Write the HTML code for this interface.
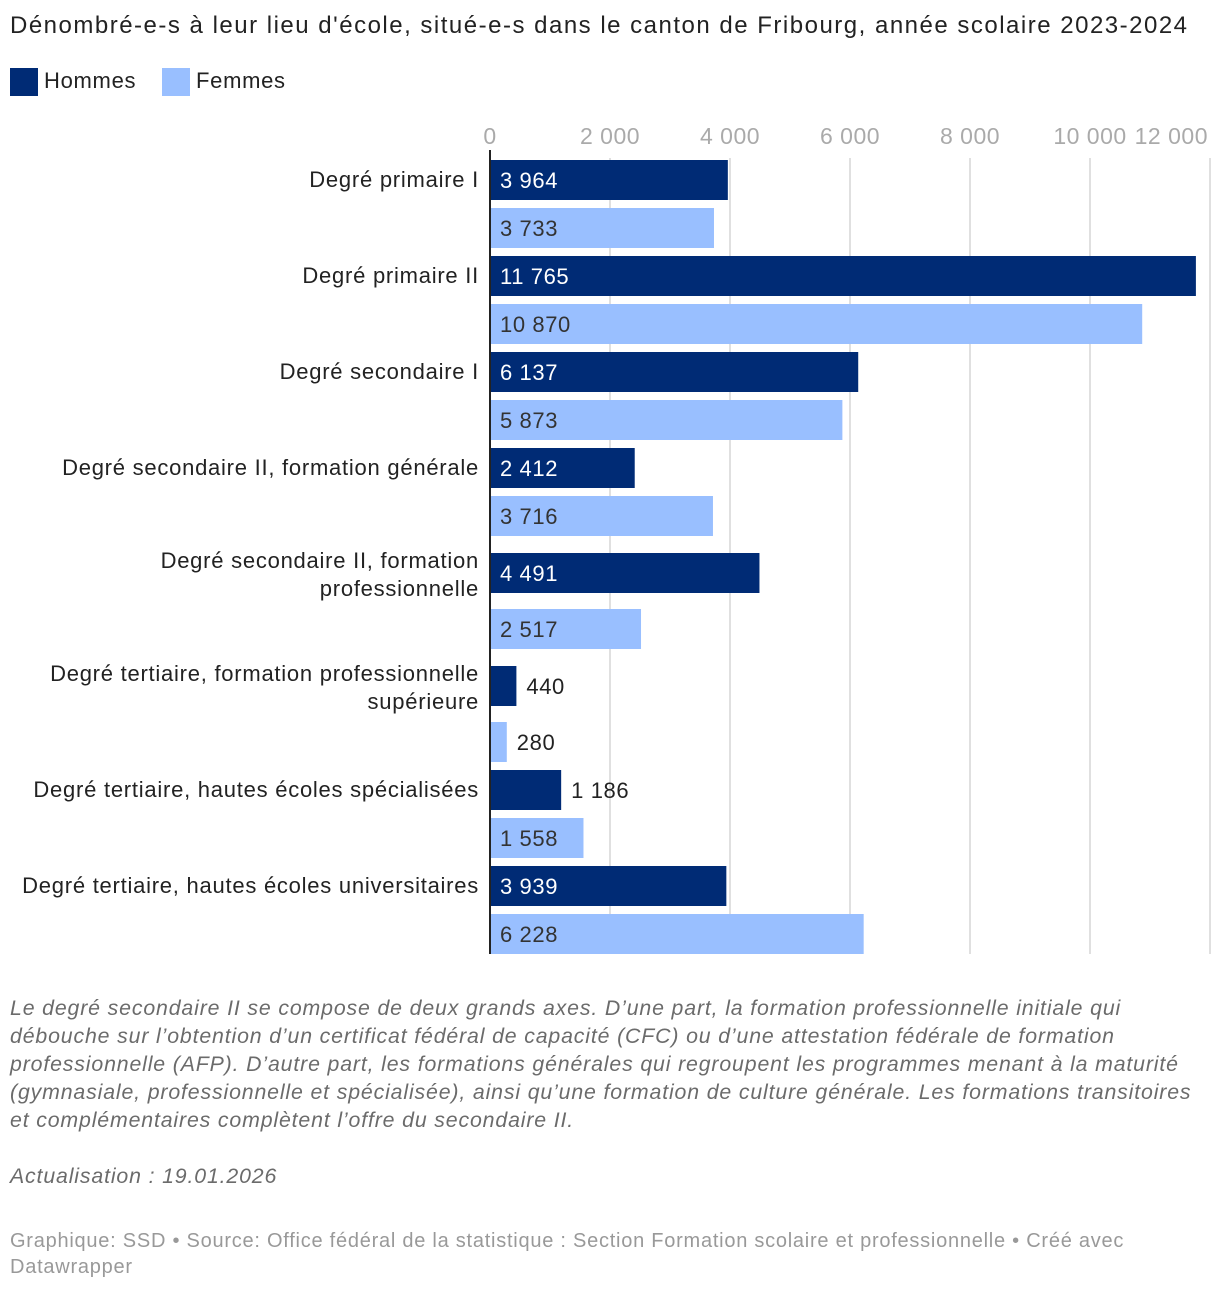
<!DOCTYPE html>
<html><head><meta charset="utf-8">
<style>
body{margin:0;background:#fff;width:1220px;height:1292px;overflow:hidden;font-family:"Liberation Sans",sans-serif;}
.t{position:absolute;white-space:nowrap;}
</style></head><body>
<div class="t" style="left:10px;top:12px;font-size:24px;color:#222;letter-spacing:1.5px;">Dénombré-e-s à leur lieu d'école, situé-e-s dans le canton de Fribourg, année scolaire 2023-2024</div>
<div class="t" style="left:10px;top:68px;font-size:22px;color:#222;letter-spacing:0.7px;"><span style="display:inline-block;width:28px;height:28px;background:#002b75;vertical-align:middle;margin-right:6px;"></span>Hommes</div>
<div class="t" style="left:162px;top:68px;font-size:22px;color:#222;letter-spacing:0.7px;"><span style="display:inline-block;width:28px;height:28px;background:#99bfff;vertical-align:middle;margin-right:6px;"></span>Femmes</div>
<svg id="chart" width="1220" height="980" style="position:absolute;left:0;top:0;font-family:'Liberation Sans',sans-serif;"></svg>
<div style="position:absolute;left:10px;top:994px;width:1200px;font-size:21.3px;line-height:28px;font-style:italic;color:#6b6b6b;letter-spacing:0.85px;">Le degré secondaire II se compose de deux grands axes. D’une part, la formation professionnelle initiale qui débouche sur l’obtention d’un certificat fédéral de capacité (CFC) ou d’une attestation fédérale de formation professionnelle (AFP). D’autre part, les formations générales qui regroupent les programmes menant à la maturité (gymnasiale, professionnelle et spécialisée), ainsi qu’une formation de culture générale. Les formations transitoires et complémentaires complètent l’offre du secondaire II.<br><br>Actualisation : 19.01.2026</div>
<div style="position:absolute;left:10px;top:1228px;width:1150px;font-size:20px;line-height:26px;color:#999;letter-spacing:0.75px;">Graphique: SSD • Source: Office fédéral de la statistique : Section Formation scolaire et professionnelle • Créé avec Datawrapper</div>
<script>
const categories=[["Degré primaire I"],["Degré primaire II"],["Degré secondaire I"],["Degré secondaire II, formation générale"],["Degré secondaire II, formation","professionnelle"],["Degré tertiaire, formation professionnelle","supérieure"],["Degré tertiaire, hautes écoles spécialisées"],["Degré tertiaire, hautes écoles universitaires"]];
const hommes=[3964,11765,6137,2412,4491,440,1186,3939];
const femmes=[3733,10870,5873,3716,2517,280,1558,6228];
const ticks=[0,2000,4000,6000,8000,10000,12000];
const NS="http://www.w3.org/2000/svg";
const svg=document.getElementById('chart');
const x0=490,pxPer=0.06;
function xs(v){return x0+v*pxPer;}
function fmt(v){return String(v).replace(/\B(?=(\d{3})+(?!\d))/g," ");}
function mk(tag,attrs,txt){const e=document.createElementNS(NS,tag);for(const k in attrs)e.setAttribute(k,attrs[k]);if(txt!==undefined)e.textContent=txt;svg.appendChild(e);return e;}
ticks.forEach((t,i)=>{
  if(i>0){const g=mk('line',{x1:xs(t),x2:xs(t),y1:158,y2:954,stroke:'#e0e0e0','stroke-width':2});
  
  }
  let anchor='middle',x=xs(t);
  if(i===ticks.length-1){anchor='end';x=xs(t)-2;}
  const tl=mk('text',{x:x,y:144,'font-size':23,fill:'#aaa','text-anchor':anchor,'letter-spacing':0.5},fmt(t));
  
  
});
let y=160;
categories.forEach((lab,i)=>{
  const two=lab.length>1;
  if(two) y+=9;
  const hy=y, fy=y+(two?56:48);
  lab.forEach((ln,j)=>{
    const t=mk('text',{x:479,y:two?(hy+15+j*28):(hy+27),'font-size':22,fill:'#222','text-anchor':'end','letter-spacing':0.75},ln);
    
    
  });
  [[hommes[i],hy,'#002b75','#fff','bar-hommes'],[femmes[i],fy,'#99bfff','#333','bar-femmes']].forEach(([v,by,col,tc,nm])=>{
    const w=xs(v)-x0;
    const r=mk('rect',{x:x0,y:by,width:w,height:40,fill:col});
    
    
    const inside=w>80;
    const vl=mk('text',{x:inside?x0+10:xs(v)+10,y:by+28,'font-size':22,fill:inside?tc:'#222','letter-spacing':0.6},fmt(v));
    
    
  });
  y=fy+48;
});
const ax=mk('line',{x1:x0,x2:x0,y1:150,y2:954,stroke:'#222','stroke-width':2});


</script>
</body></html>
